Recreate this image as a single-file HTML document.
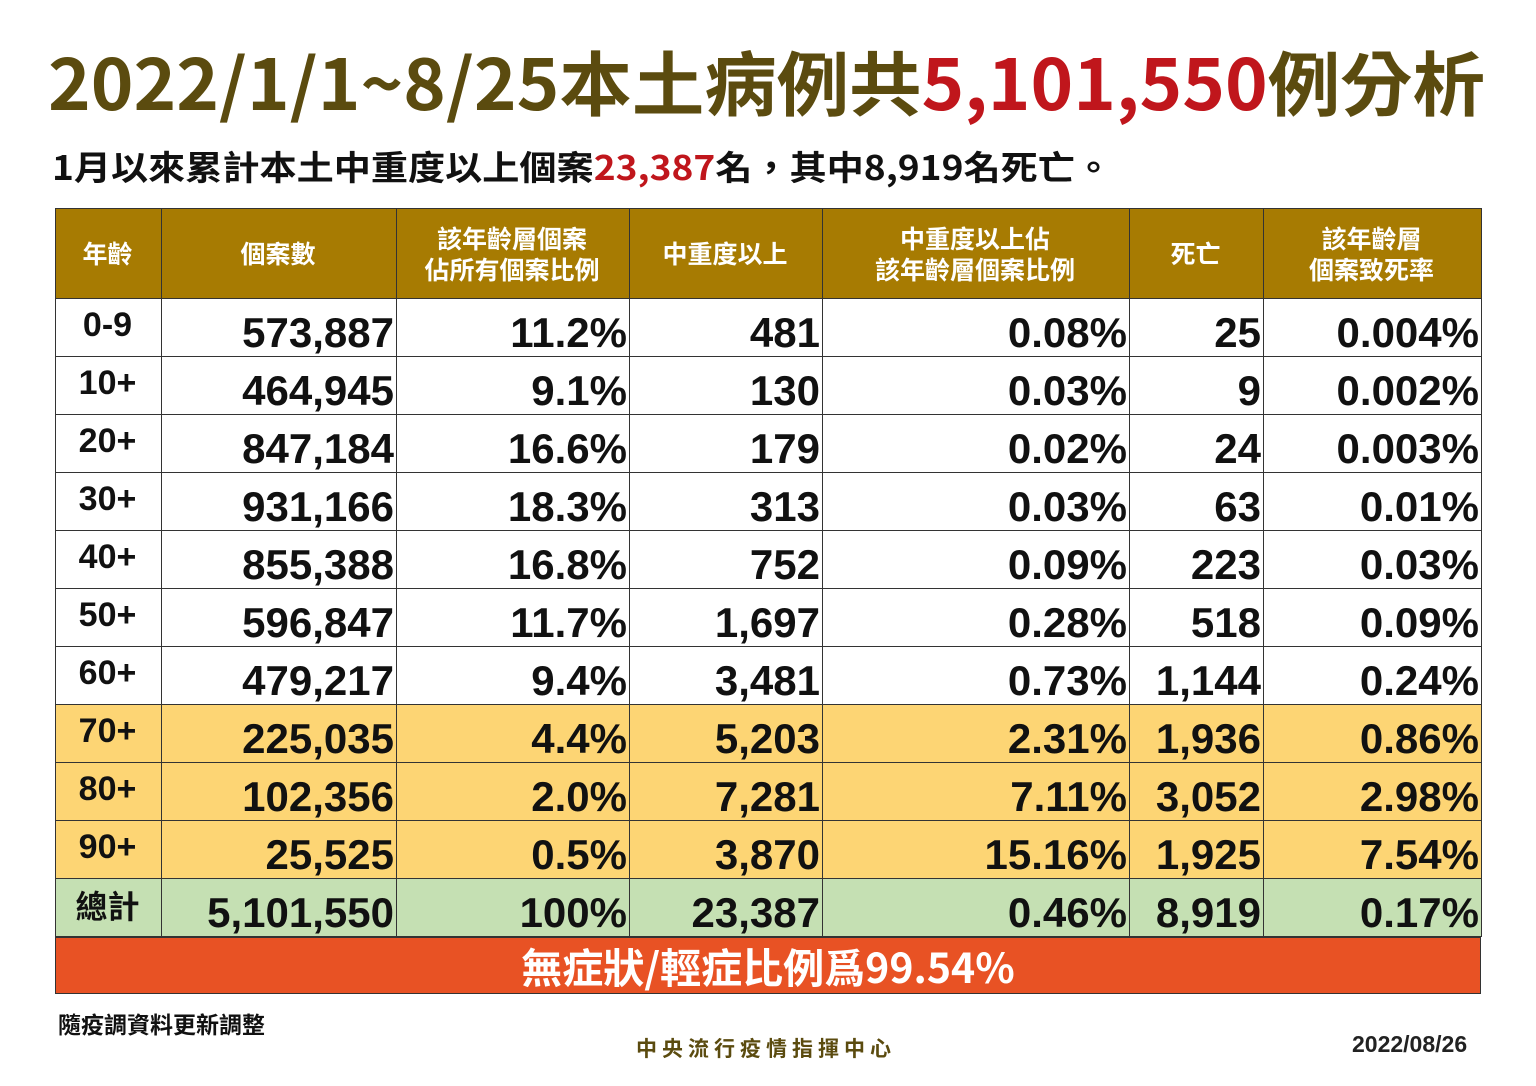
<!DOCTYPE html>
<html><head><meta charset="utf-8"><style>
body{margin:0;width:1536px;height:1086px;background:#fff;position:relative;overflow:hidden;font-family:"Liberation Sans","Noto Sans CJK TC",sans-serif}
svg.t{position:absolute;left:0;top:0}
table{position:absolute;left:55px;top:208px;border-collapse:collapse;table-layout:fixed}
td{border:1.5px solid #333;padding:0 2px 0 0;font-weight:bold;font-size:42px;text-align:right;height:57px;line-height:46px;vertical-align:bottom;color:#111;overflow:hidden;white-space:nowrap}
td:first-child{text-align:center;font-size:34px;vertical-align:top;line-height:52px}
tr.h td{background:#a77b02;color:#fff;font-size:25px;line-height:31px;text-align:center;vertical-align:middle;height:89px;font-family:"Noto Sans CJK TC",sans-serif}
tr.y td{background:#fdd574}
tr.g td{background:#c5e0b3}
tr.g td:first-child{font-family:"Noto Sans CJK TC",sans-serif;font-size:32px}
.ban{position:absolute;left:55px;top:937px;width:1426px;height:57px;background:#e85224;border:1.5px solid #333;box-sizing:border-box;color:#fff;font-weight:bold;font-size:41px;text-align:center;line-height:55px;font-family:"Noto Sans CJK TC",sans-serif}
.f{position:absolute;font-weight:bold;font-family:"Noto Sans CJK TC",sans-serif}
</style></head><body>
<svg class="t" width="1536" height="200">
<text x="48" y="110" textLength="1437" lengthAdjust="spacingAndGlyphs" font-family="Noto Sans CJK TC,sans-serif" font-weight="bold" font-size="70" fill="#5b4b0f">2022/1/1~8/25本土病例共<tspan fill="#c0161c">5,101,550</tspan>例分析</text>
<text x="52" y="180" textLength="1060" lengthAdjust="spacingAndGlyphs" font-family="Noto Sans CJK TC,sans-serif" font-weight="bold" font-size="34" fill="#111">1月以來累計本土中重度以上個案<tspan fill="#c0161c">23,387</tspan>名，其中8,919名死亡。</text>
</svg>
<table>
<colgroup><col style="width:106px"><col style="width:235px"><col style="width:233px"><col style="width:193px"><col style="width:307px"><col style="width:134px"><col style="width:218px"></colgroup>
<tr class="h"><td>年齡</td><td>個案數</td><td>該年齡層個案<br>佔所有個案比例</td><td>中重度以上</td><td>中重度以上佔<br>該年齡層個案比例</td><td>死亡</td><td>該年齡層<br>個案致死率</td></tr>
<tr><td>0-9</td><td>573,887</td><td>11.2%</td><td>481</td><td>0.08%</td><td>25</td><td>0.004%</td></tr>
<tr><td>10+</td><td>464,945</td><td>9.1%</td><td>130</td><td>0.03%</td><td>9</td><td>0.002%</td></tr>
<tr><td>20+</td><td>847,184</td><td>16.6%</td><td>179</td><td>0.02%</td><td>24</td><td>0.003%</td></tr>
<tr><td>30+</td><td>931,166</td><td>18.3%</td><td>313</td><td>0.03%</td><td>63</td><td>0.01%</td></tr>
<tr><td>40+</td><td>855,388</td><td>16.8%</td><td>752</td><td>0.09%</td><td>223</td><td>0.03%</td></tr>
<tr><td>50+</td><td>596,847</td><td>11.7%</td><td>1,697</td><td>0.28%</td><td>518</td><td>0.09%</td></tr>
<tr><td>60+</td><td>479,217</td><td>9.4%</td><td>3,481</td><td>0.73%</td><td>1,144</td><td>0.24%</td></tr>
<tr class="y"><td>70+</td><td>225,035</td><td>4.4%</td><td>5,203</td><td>2.31%</td><td>1,936</td><td>0.86%</td></tr>
<tr class="y"><td>80+</td><td>102,356</td><td>2.0%</td><td>7,281</td><td>7.11%</td><td>3,052</td><td>2.98%</td></tr>
<tr class="y"><td>90+</td><td>25,525</td><td>0.5%</td><td>3,870</td><td>15.16%</td><td>1,925</td><td>7.54%</td></tr>
<tr class="g"><td>總計</td><td>5,101,550</td><td>100%</td><td>23,387</td><td>0.46%</td><td>8,919</td><td>0.17%</td></tr>
</table>
<div class="ban">無症狀/輕症比例爲99.54%</div>
<div class="f" style="left:58px;top:1006px;font-size:23px;color:#111">隨疫調資料更新調整</div>
<div class="f" style="left:636px;top:1033px;font-size:21px;color:#5b4b0f;letter-spacing:5px">中央流行疫情指揮中心</div>
<div class="f" style="left:1352px;top:1031px;font-size:23px;color:#222;font-family:'Liberation Sans',sans-serif">2022/08/26</div>
</body></html>
